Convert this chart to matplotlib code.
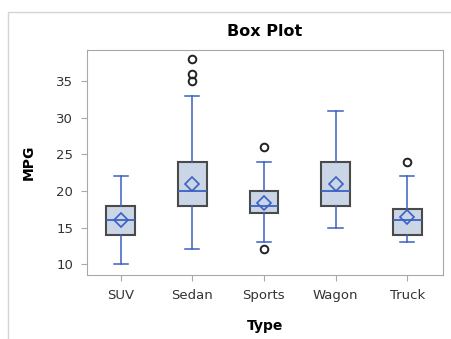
import matplotlib
matplotlib.use("Agg")
import matplotlib.pyplot as plt
from matplotlib.patches import Rectangle

categories = ["SUV", "Sedan", "Sports", "Wagon", "Truck"]
whislo = [10, 12, 13, 15, 13]
q1 = [14, 18, 17, 18, 14]
med = [16, 20, 18, 20, 16]
q3 = [18, 24, 20, 24, 17.5]
whishi = [22, 33, 24, 31, 22]
means = [16, 21, 18.4, 21, 16.5]
fliers = [[], [35, 36, 38], [12, 26], [], [24]]
yticks = [10, 15, 20, 25, 30, 35]

blue = "#3c61c4"
face = "#cad5e6"
edge = "#4a4a4a"

fig = plt.figure(figsize=(4.51, 3.39), dpi=100)
fig.patches.append(Rectangle((8 / 451, -0.1), 1.5, (339 - 12) / 339 + 0.1,
                             transform=fig.transFigure, fill=False,
                             edgecolor="#d4d4d4", linewidth=1.0))
ax = fig.add_axes([87 / 451, (339 - 275) / 339, (443 - 87) / 451, (275 - 50) / 339])

stats = []
for i, c in enumerate(categories):
    stats.append(dict(label=c, whislo=whislo[i], q1=q1[i], med=med[i], q3=q3[i],
                      whishi=whishi[i], mean=means[i], fliers=fliers[i]))

ax.bxp(stats, positions=range(len(categories)), widths=0.4, patch_artist=True,
       showmeans=True, showcaps=True,
       boxprops=dict(facecolor=face, edgecolor=edge, linewidth=1.5),
       medianprops=dict(color=blue, linewidth=1.3),
       whiskerprops=dict(color=blue, linewidth=1.1),
       capprops=dict(color=blue, linewidth=1.1),
       capwidths=0.2,
       meanprops=dict(marker="D", markerfacecolor="none", markeredgecolor=blue,
                      markersize=7, markeredgewidth=1.2),
       flierprops=dict(marker="o", markerfacecolor="none", markeredgecolor="#222222",
                       markersize=5.5, markeredgewidth=1.4))

ax.set_xlim(-0.47, 4.5)
ax.set_ylim(8.5, 39.3)
ax.set_yticks(yticks)
ax.set_xticks(range(len(categories)))
ax.set_xticklabels(categories)
for s in ax.spines.values():
    s.set_color("#a8a8a8")
ax.tick_params(colors="#a8a8a8", labelcolor="#333333", labelsize=9.5, length=4)
ax.tick_params(axis="x", pad=6)
ax.tick_params(axis="y", pad=6)
ax.set_title("Box Plot", fontsize=11.5, fontweight="bold", pad=10)
ax.set_xlabel("Type", fontsize=10, fontweight="bold", labelpad=12)
ax.set_ylabel("MPG", fontsize=10, fontweight="bold", labelpad=15)

fig.savefig("out.png", dpi=100)
